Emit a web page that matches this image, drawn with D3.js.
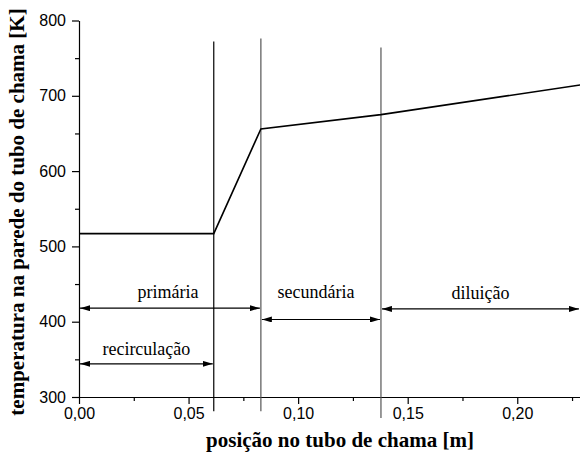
<!DOCTYPE html>
<html>
<head>
<meta charset="utf-8">
<script src="https://cdn.jsdelivr.net/npm/d3@7"></script>
<style>
  body { margin: 0; background: #fff; }
  svg { display: block; }
</style>
</head>
<body>
<svg id="mainsvg" width="580" height="459"></svg>
<script>
// wall temperature along the flame tube
const posX = [0, 0.0615, 0.083, 0.1378, 0.23];
const tempK = [517, 517, 656, 675, 715];

// zone boundaries (vertical lines): x, top value, bottom value
const zoneX = [0.0615, 0.083, 0.1378];
const zoneTop = [772, 776, 764];
const zoneBottom = [281, 281, 272];
const zoneColor = ['#000', '#555', '#555'];

// annotated ranges
const zoneNames = ['primária', 'recirculação', 'secundária', 'diluição'];
const zoneFrom = [0, 0, 0.083, 0.1378];
const zoneTo = [0.083, 0.0615, 0.1378, 0.2286];
const zoneLevel = [418, 344, 403, 417];
const labelLevel = [431, 356, 431, 430];

const xTicks = [0, 0.05, 0.10, 0.15, 0.20];
const yTicks = [300, 400, 500, 600, 700, 800];

const serif = "'Liberation Serif', 'Times New Roman', Times, serif";
const sans = "'Liberation Sans', Arial, sans-serif";

const svg = d3.select('#mainsvg');
const margin = { top: 20.5, left: 79, bottom: 62 };
const height = +svg.attr('height');

const x = d3.scaleLinear().domain([0, 0.23]).range([margin.left, 583]);
const y = d3.scaleLinear().domain([300, 800]).range([height - margin.bottom, margin.top]);

const defs = svg.append('defs');
['start', 'end'].forEach(function(k) {
    defs.append('marker')
        .attr('id', 'arr-' + k)
        .attr('viewBox', '0 0 10 6')
        .attr('refX', k === 'end' ? 10 : 0)
        .attr('refY', 3)
        .attr('markerWidth', 10)
        .attr('markerHeight', 6)
        .attr('markerUnits', 'userSpaceOnUse')
        .attr('orient', 'auto')
        .append('path')
        .attr('d', k === 'end' ? 'M0,0 L10,3 L0,6 Z' : 'M10,0 L0,3 L10,6 Z')
        .attr('fill', '#000');
});

// axes
const xAxis = svg.append('g')
    .attr('transform', `translate(0,${y(300)})`)
    .call(d3.axisBottom(x).tickValues(xTicks).tickSize(7).tickSizeOuter(0).tickPadding(2)
        .tickFormat(d => d3.format('.2f')(d).replace('.', ',')));
svg.append('g')
    .attr('transform', `translate(0,${y(300)})`)
    .call(d3.axisBottom(x).tickValues(d3.range(0.025, 0.23, 0.05)).tickSize(4).tickSizeOuter(0).tickFormat(''))
    .select('.domain').remove();

const yAxis = svg.append('g')
    .attr('transform', `translate(${margin.left},0)`)
    .call(d3.axisLeft(y).tickValues(yTicks).tickSize(7).tickSizeOuter(0).tickPadding(6));
svg.append('g')
    .attr('transform', `translate(${margin.left},0)`)
    .call(d3.axisLeft(y).tickValues(d3.range(350, 800, 100)).tickSize(4).tickSizeOuter(0).tickFormat(''))
    .select('.domain').remove();

svg.selectAll('.tick text')
    .attr('font-family', sans)
    .attr('font-size', 16)
    .attr('fill', '#000');
xAxis.selectAll('.tick text').attr('dy', '0.8em');
svg.selectAll('.domain, .tick line').attr('stroke', '#000').attr('stroke-width', 1.2);

// zone boundaries
svg.selectAll('line.zone').data(zoneX).enter()
    .append('line')
    .attr('class', 'zone')
    .attr('x1', d => x(d)).attr('x2', d => x(d))
    .attr('y1', (d, i) => y(zoneTop[i]))
    .attr('y2', (d, i) => y(zoneBottom[i]))
    .attr('stroke', (d, i) => zoneColor[i])
    .attr('stroke-width', 1.2);

// temperature curve
const line = d3.line().x(d => x(d[0])).y(d => y(d[1]));
svg.append('path')
    .datum(d3.zip(posX, tempK))
    .attr('d', line)
    .attr('fill', 'none')
    .attr('stroke', '#000')
    .attr('stroke-width', 1.6);

// range arrows
svg.selectAll('line.range').data(zoneNames).enter()
    .append('line')
    .attr('class', 'range')
    .attr('x1', (d, i) => x(zoneFrom[i]) + 1)
    .attr('x2', (d, i) => x(zoneTo[i]) - 1)
    .attr('y1', (d, i) => y(zoneLevel[i]))
    .attr('y2', (d, i) => y(zoneLevel[i]))
    .attr('stroke', '#000')
    .attr('stroke-width', 1.1)
    .attr('marker-start', 'url(#arr-start)')
    .attr('marker-end', 'url(#arr-end)');

const labelShift = [-2, 0, -5, 0];
svg.selectAll('text.zname').data(zoneNames).enter()
    .append('text')
    .attr('class', 'zname')
    .attr('x', (d, i) => (x(zoneFrom[i]) + x(zoneTo[i])) / 2 + labelShift[i])
    .attr('y', (d, i) => y(labelLevel[i]))
    .attr('text-anchor', 'middle')
    .attr('font-family', serif)
    .attr('font-size', 18)
    .text(d => d);

// axis titles
svg.append('text')
    .attr('x', 340)
    .attr('y', 447)
    .attr('text-anchor', 'middle')
    .attr('font-family', serif)
    .attr('font-weight', 'bold')
    .attr('font-size', 21)
    .text('posição no tubo de chama [m]');

svg.append('text')
    .attr('transform', 'translate(24,212) rotate(-90)')
    .attr('text-anchor', 'middle')
    .attr('font-family', serif)
    .attr('font-weight', 'bold')
    .attr('font-size', 21)
    .text('temperatura na parede do tubo de chama [K]');
</script>
</body>
</html>
